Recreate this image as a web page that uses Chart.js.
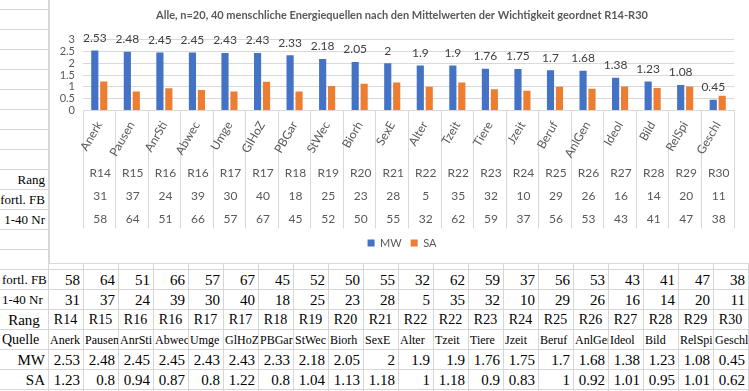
<!DOCTYPE html>
<html>
<head>
<meta charset="utf-8">
<script src="https://cdn.jsdelivr.net/npm/chart.js@4.4.1/dist/chart.umd.min.js"></script>
<style>
  html, body { margin: 0; padding: 0; background: #fff; }
  body { position: relative; width: 749px; height: 391px; overflow: hidden; font-family: "Liberation Serif", "Times New Roman", serif; }
  .hlines { position: absolute; left: 0; top: 0; width: 749px; height: 391px;
    background-image: linear-gradient(to bottom, #d6d6d6 1px, transparent 1px);
    background-size: 100% 20px; background-position: 0 9px; }
  .vlines { position: absolute; left: 48px; top: 0; width: 701px; height: 391px;
    background-image: linear-gradient(to right, #d6d6d6 1px, transparent 1px);
    background-size: 35px 100%; }
  #chartBox { position: absolute; left: 49px; top: -1px; width: 702px; height: 265px; box-sizing: border-box;
    border: 1px solid #d9d9d9; background: #fff; }
  #chart { display: block; }
  .c { position: absolute; height: 20px; line-height: 20px; white-space: nowrap; overflow: hidden; color: #000; box-sizing: border-box; }
</style>
</head>
<body>
<div class="hlines"></div>
<div class="vlines"></div>
<div id="chartBox"><canvas id="chart" width="700" height="263"></canvas></div>
<div id="sheet"></div>
<script>
// data
const titleText = 'Alle, n=20, 40 menschliche Energiequellen nach den Mittelwerten der Wichtigkeit geordnet R14-R30';
const names = ['Anerk', 'Pausen', 'AnrSti', 'Abwec', 'Umge', 'GlHoZ', 'PBGar', 'StWec', 'Biorh', 'SexE',
  'Alter', 'Tzeit', 'Tiere', 'Jzeit', 'Beruf', 'AnlGen', 'Ideol', 'Bild', 'RelSpi', 'Geschl'];
const ranks = ['R14', 'R15', 'R16', 'R16', 'R17', 'R17', 'R18', 'R19', 'R20', 'R21',
  'R22', 'R22', 'R23', 'R24', 'R25', 'R26', 'R27', 'R28', 'R29', 'R30'];
const nr = [31, 37, 24, 39, 30, 40, 18, 25, 23, 28, 5, 35, 32, 10, 29, 26, 16, 14, 20, 11];
const fb = [58, 64, 51, 66, 57, 67, 45, 52, 50, 55, 32, 62, 59, 37, 56, 53, 43, 41, 47, 38];
const mw = [2.53, 2.48, 2.45, 2.45, 2.43, 2.43, 2.33, 2.18, 2.05, 2, 1.9, 1.9, 1.76, 1.75, 1.7, 1.68, 1.38, 1.23, 1.08, 0.45];
const sa = [1.23, 0.8, 0.94, 0.87, 0.8, 1.22, 0.8, 1.04, 1.13, 1.18, 1, 1.18, 0.9, 0.83, 1, 0.92, 1.01, 0.95, 1.01, 0.62];

const chartFont = 'Lato';

// spreadsheet cells around the chart
const sheet = document.getElementById('sheet');
function cell(text, left, top, width, align, size, pad) {
  const d = document.createElement('div');
  d.className = 'c';
  d.textContent = text;
  d.style.left = left + 'px';
  d.style.top = top + 'px';
  d.style.width = width + 'px';
  d.style.textAlign = align;
  d.style.fontSize = size + 'px';
  if (align === 'right') d.style.paddingRight = pad + 'px';
  if (align === 'left') d.style.paddingLeft = pad + 'px';
  sheet.appendChild(d);
}

// labels left of the chart's category levels
cell('Rang', 0, 170, 48, 'right', 13, 3);
cell('fortl. FB', 0, 190, 48, 'right', 13, 3);
cell('1-40 Nr', 0, 210, 48, 'right', 13, 3);

// table under the chart
const rowTop = r => 270 + 20 * r;
cell('fortl. FB', 0, rowTop(0), 48, 'left', 13, 2);
cell('1-40 Nr', 0, rowTop(1), 48, 'left', 13, 2);
cell('Rang', 0, rowTop(2), 48, 'center', 15, 0);
cell('Quelle', 0, rowTop(3), 48, 'left', 14, 2);
cell('MW', 0, rowTop(4), 48, 'right', 15, 3);
cell('SA', 0, rowTop(5), 48, 'right', 15, 3);
names.forEach((n, i) => {
  const left = 48 + 35 * i;
  cell(String(fb[i]), left, rowTop(0), 35, 'right', 15, 3);
  cell(String(nr[i]), left, rowTop(1), 35, 'right', 15, 3);
  cell(ranks[i], left, rowTop(2), 35, 'center', 14, 0);
  cell(n, left + 1, rowTop(3), 34, 'left', 12, 1);
  cell(String(mw[i]), left, rowTop(4), 35, 'right', 15, 3);
  cell(String(sa[i]), left, rowTop(5), 35, 'right', 15, 3);
});

// rotated names, multi-level category rows and value labels
const levelLabels = {
  id: 'levelLabels',
  afterDraw(chart) {
    const ctx = chart.ctx;
    const x = chart.scales.x;
    ctx.save();
    ctx.fillStyle = '#595959';
    ctx.font = '12px ' + chartFont;
    names.forEach((name, i) => {
      const cx = x.getPixelForValue(i);
      ctx.save();
      ctx.translate(cx, x.top + 12);
      ctx.rotate(-Math.PI / 3);
      ctx.textAlign = 'right';
      ctx.textBaseline = 'middle';
      ctx.fillText(name, 0, 0);
      ctx.restore();
      ctx.textAlign = 'center';
      ctx.textBaseline = 'middle';
      ctx.fillText(ranks[i], cx + 1, x.top + 62.5);
      ctx.fillText(String(nr[i]), cx + 1, x.top + 85.5);
      ctx.fillText(String(fb[i]), cx + 1, x.top + 108.5);
    });
    ctx.font = '12px ' + chartFont;
    ctx.fillStyle = '#404040';
    ctx.textAlign = 'center';
    ctx.textBaseline = 'middle';
    chart.getDatasetMeta(0).data.forEach((bar, i) => {
      ctx.fillText(String(mw[i]), bar.x, bar.y - 12.5);
    });
    ctx.restore();
  }
};

new Chart(document.getElementById('chart'), {
  type: 'bar',
  data: {
    labels: names,
    datasets: [
      { label: 'MW', data: mw, backgroundColor: '#4472C4' },
      { label: 'SA', data: sa, backgroundColor: '#ED7D31' }
    ]
  },
  options: {
    responsive: false,
    animation: false,
    devicePixelRatio: 1,
    categoryPercentage: 0.55,
    barPercentage: 0.8,
    layout: { padding: { left: 4, right: 0, top: 0, bottom: 4.5 } },
    plugins: {
      title: {
        display: true,
        text: titleText,
        color: '#595959',
        font: { family: chartFont, size: 11, weight: 'bold' },
        padding: { top: 9, bottom: 17.3 }
      },
      legend: {
        position: 'bottom',
        labels: { boxWidth: 7, boxHeight: 7, color: '#595959', font: { family: chartFont, size: 11 }, padding: 9 }
      },
      tooltip: { enabled: false }
    },
    scales: {
      x: {
        grid: { display: true, drawOnChartArea: false, drawTicks: true, tickLength: 118, color: '#d9d9d9', offset: true },
        border: { color: '#d9d9d9' },
        ticks: { display: false },
        afterFit(s) { s.height = 118; }
      },
      y: {
        min: 0,
        max: 3,
        ticks: {
          stepSize: 0.5,
          autoSkip: false,
          color: '#595959',
          font: { family: chartFont, size: 11 },
          padding: 8,
          callback: v => String(+v.toFixed(1))
        },
        grid: { color: '#d9d9d9', drawTicks: false },
        border: { display: false },
        afterFit(s) { s.width = 29; }
      },
      // empty right-hand margin so the legend and title sit centred like the original
      yRight: {
        position: 'right',
        grid: { display: false, drawTicks: false },
        border: { display: false },
        ticks: { display: false },
        afterFit(s) { s.width = 16; }
      }
    }
  },
  plugins: [levelLabels]
});
</script>
</body>
</html>
